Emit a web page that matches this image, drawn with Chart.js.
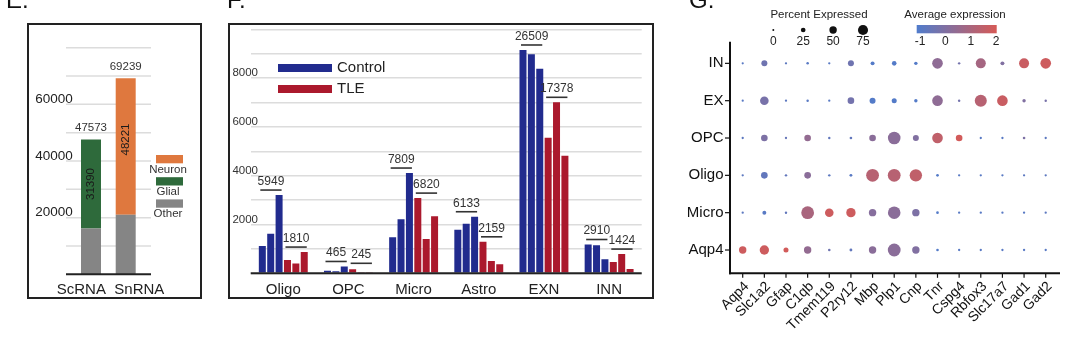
<!DOCTYPE html>
<html><head><meta charset="utf-8">
<script src="https://cdn.jsdelivr.net/npm/chart.js@4.4.1/dist/chart.umd.min.js"></script>
<style>
html,body{margin:0;padding:0;background:#fff;}
#wrap{position:relative;width:1080px;height:341px;overflow:hidden;background:#fff;}
canvas{position:absolute;left:0;top:0;}
.box{position:absolute;border:2px solid #222;box-sizing:border-box;}
</style></head><body>
<div id="wrap">
<div class="box" style="left:27px;top:23px;width:175px;height:276px"></div>
<div class="box" style="left:228px;top:23px;width:426px;height:276px"></div>
<canvas id="cE" width="1080" height="341"></canvas>
<canvas id="cF" width="1080" height="341"></canvas>
<canvas id="cG" width="1080" height="341"></canvas>
</div>
<script>
// ---------- Panel E data ----------
const eCategories = ['ScRNA', 'SnRNA'];
const eOther  = [16183, 21018];
const eGlial  = [31390, 0];
const eNeuron = [0, 48221];
const eTotals = [47573, 69239];
const eTickLabels = [20000, 40000, 60000];

// ---------- Panel F data ----------
const fCategories = ['Oligo', 'OPC', 'Micro', 'Astro', 'EXN', 'INN'];
const fControl1 = [1119, 100, 1480, 1785, 9152, 1180];
const fControl2 = [1623, 85, 2220, 2030, 8975, 1150];
const fControl3 = [3207, 280, 4109, 2318, 8382, 580];
const fTLE1 = [540, 165, 3082, 1290, 5557, 460];
const fTLE2 = [400, 40, 1404, 500, 7008, 788];
const fTLE3 = [870, 40, 2334, 369, 4813, 176];
const fControlTotals = [5949, 465, 7809, 6133, 26509, 2910];
const fTLETotals = [1810, 245, 6820, 2159, 17378, 1424];
const fTickLabels = [2000, 4000, 6000, 8000];

// ---------- Panel G data ----------
const gGenes = ['Aqp4','Slc1a2','Gfap','C1qb','Tmem119','P2ry12','Mbp','Plp1','Cnp','Tnr','Cspg4','Rbfox3','Slc17a7','Gad1','Gad2'];
const gCells = ['Aqp4', 'Micro', 'Oligo', 'OPC', 'EX', 'IN'];
const pctIN    = [2, 37, 3, 5, 3, 37, 18, 24, 13, 80, 4, 74, 18, 74, 80];
const expIN    = [-0.8, -0.3, -0.7, -0.8, -0.8, -0.3, -0.9, -0.9, -0.9, 0.4, -0.2, 0.9, 0.1, 1.7, 1.8];
const pctEX    = [2, 61, 3, 4, 3, 43, 37, 28, 13, 80, 4, 93, 80, 13, 4];
const expEX    = [-0.8, -0.1, -0.7, -0.8, -0.8, -0.2, -0.9, -0.9, -0.9, 0.4, -0.2, 1.3, 1.7, 0.1, -0.1];
const pctOPC   = [3, 43, 3, 43, 4, 6, 43, 98, 37, 80, 43, 3, 3, 6, 3];
const expOPC   = [-0.7, 0.0, -0.5, 0.5, -0.6, -0.6, 0.3, 0.3, 0.1, 1.5, 1.9, -0.8, -0.8, 0.0, -0.7];
const pctOligo = [3, 43, 4, 43, 4, 8, 100, 100, 96, 6, 3, 3, 3, 3, 3];
const expOligo = [-0.7, -0.6, -0.6, 0.3, -0.7, -0.8, 1.3, 1.3, 1.5, -0.9, -0.8, -0.8, -0.8, -0.7, -0.7];
const pctMicro = [3, 18, 4, 100, 61, 68, 50, 98, 50, 6, 3, 3, 3, 3, 3];
const expMicro = [-0.7, -0.8, -0.6, 1.0, 1.8, 1.8, 0.2, 0.3, 0.0, -0.9, -0.8, -0.8, -0.8, -0.8, -0.7];
const pctAqp4  = [50, 68, 28, 50, 5, 8, 50, 100, 50, 6, 3, 3, 3, 3, 3];
const expAqp4  = [1.8, 1.8, 1.9, 0.5, -0.3, -0.6, 0.3, 0.3, 0.1, -0.9, -0.8, -0.8, -0.8, -0.8, -0.8];
const gPctLegend = [0, 25, 50, 75];
const gExpLegend = [-1, 0, 1, 2];

// ---------- helpers ----------
const FF = '"Liberation Sans", Arial, sans-serif';
function txt(ctx, s, x, y, size, color, align, base) {
  ctx.font = size + 'px ' + FF; ctx.fillStyle = color;
  ctx.textAlign = align || 'center'; ctx.textBaseline = base || 'middle';
  ctx.fillText(s, x, y);
}
function ln(ctx, x1, y1, x2, y2, w, c) {
  ctx.beginPath(); ctx.moveTo(x1, y1); ctx.lineTo(x2, y2);
  ctx.lineWidth = w; ctx.strokeStyle = c; ctx.stroke();
}
const LO = [80, 124, 204], HI = [214, 90, 86];
function expColor(e) {
  const t = Math.max(0, Math.min(1, (e + 1) / 3));
  const c = LO.map((v, i) => Math.round(v + (HI[i] - v) * t));
  return 'rgb(' + c.join(',') + ')';
}
function radius(p) { return 1 + 0.054 * p; }
Chart.defaults.font.family = FF;

// ---------- Panel E ----------
const eColors = { other: '#858585', glial: '#2e6a3b', neuron: '#df783e' };
const eLabelShift = [-9.7, 13.6];
const eInnerShift = [0, -7];
const plE = {
  id: 'plE',
  beforeDatasetsDraw(chart) {
    const ctx = chart.ctx, y = chart.scales.y;
    ctx.save();
    y.ticks.forEach(t => {
      if (t.value === 0) return;
      const py = y.getPixelForValue(t.value);
      ln(ctx, 66, py, 151, py, 1.5, '#dcdcdc');
    });
    ctx.restore();
  },
  afterDatasetsDraw(chart) {
    const ctx = chart.ctx, y = chart.scales.y, x = chart.scales.x;
    ctx.save();
    ln(ctx, 66, y.getPixelForValue(0), 151, y.getPixelForValue(0), 2, '#222');
    eTickLabels.forEach(v => txt(ctx, String(v), 72.7, y.getPixelForValue(v) - 5, 13.5, '#222', 'right'));
    eCategories.forEach((c, i) => {
      const px = x.getPixelForValue(i);
      txt(ctx, String(eTotals[i]), px, y.getPixelForValue(eTotals[i]) - 11.5, 11.5, '#333');
      txt(ctx, c, px + eLabelShift[i], 290, 15, '#222');
      const seg = eGlial[i] > 0 ? eGlial[i] : eNeuron[i];
      const cy = (y.getPixelForValue(eOther[i]) + y.getPixelForValue(eOther[i] + seg)) / 2 + eInnerShift[i];
      ctx.save(); ctx.translate(px, cy); ctx.rotate(-Math.PI / 2);
      txt(ctx, String(seg), 0, 0, 11.5, '#1a1a1a');
      ctx.restore();
    });
    // legend
    const leg = [['Neuron', eColors.neuron], ['Glial', eColors.glial], ['Other', eColors.other]];
    leg.forEach((l, k) => {
      const top = 155 + k * 22.2;
      ctx.fillStyle = l[1]; ctx.fillRect(156, top, 27, 8.3);
      txt(ctx, l[0], 168, top + 14.5, 11.5, '#333');
    });
    // panel letters
    txt(ctx, 'E.', 6, 7.5, 24, '#111', 'left', 'alphabetic');
    txt(ctx, 'F.', 227, 7.5, 24, '#111', 'left', 'alphabetic');
    txt(ctx, 'G.', 689, 7.5, 24, '#111', 'left', 'alphabetic');
    ctx.restore();
  }
};
new Chart(document.getElementById('cE'), {
  type: 'bar',
  data: {
    labels: eCategories,
    datasets: [
      { label: 'Other', data: eOther, backgroundColor: eColors.other },
      { label: 'Glial', data: eGlial, backgroundColor: eColors.glial },
      { label: 'Neuron', data: eNeuron, backgroundColor: eColors.neuron }
    ]
  },
  options: {
    responsive: false, animation: false, events: [],
    layout: { padding: { left: 73.65, right: 936.95, top: 47.7, bottom: 66.7 } },
    plugins: { legend: { display: false }, tooltip: { enabled: false } },
    datasets: { bar: { barPercentage: 0.576, categoryPercentage: 1, borderWidth: 0 } },
    scales: {
      x: { stacked: true, grid: { display: false }, border: { display: false }, ticks: { display: false }, afterFit(s) { s.height = 0; } },
      y: { stacked: true, min: 0, max: 80000, grid: { display: false }, border: { display: false }, ticks: { display: false, stepSize: 10000 }, afterFit(s) { s.width = 0; } }
    }
  },
  plugins: [plE]
});

// ---------- Panel F ----------
const CTRL = '#212b8e', TLE = '#ab192d';
const plF = {
  id: 'plF',
  afterDatasetsDraw(chart) {
    const ctx = chart.ctx, y = chart.scales.y, x = chart.scales.x, ca = chart.chartArea;
    ctx.save();
    const base = y.getPixelForValue(0);
    ln(ctx, ca.left, base, ca.right, base, 2, '#222');
    fTickLabels.forEach(v => txt(ctx, String(v), 258, y.getPixelForValue(v) - 5, 11.5, '#333', 'right'));
    fCategories.forEach((c, i) => {
      txt(ctx, c, x.getPixelForValue(i), 289.5, 15, '#222');
      [[0, fControlTotals], [3, fTLETotals]].forEach(g => {
        const bars = [0, 1, 2].map(k => chart.getDatasetMeta(g[0] + k).data[i]);
        const left = bars[0].x - bars[0].width / 2 + 1.5;
        const right = bars[2].x + bars[2].width / 2 - 1;
        const top = Math.min(...bars.map(b => b.y));
        const ly = Math.min(top - 5, base - 10);
        ln(ctx, left, ly, right, ly, 1.6, '#333');
        txt(ctx, String(g[1][i]), (left + right) / 2, ly - 8.5, 12, '#333');
      });
    });
    ctx.fillStyle = CTRL; ctx.fillRect(278, 64, 54, 8);
    txt(ctx, 'Control', 337, 68.3, 15, '#222', 'left');
    ctx.fillStyle = TLE; ctx.fillRect(278, 85, 54, 8);
    txt(ctx, 'TLE', 337, 89.3, 15, '#222', 'left');
    ctx.restore();
  }
};
new Chart(document.getElementById('cF'), {
  type: 'bar',
  data: {
    labels: fCategories,
    datasets: [
      { label: 'Control', data: fControl1, backgroundColor: CTRL },
      { label: 'Control', data: fControl2, backgroundColor: CTRL },
      { label: 'Control', data: fControl3, backgroundColor: CTRL },
      { label: 'TLE', data: fTLE1, backgroundColor: TLE },
      { label: 'TLE', data: fTLE2, backgroundColor: TLE },
      { label: 'TLE', data: fTLE3, backgroundColor: TLE }
    ]
  },
  options: {
    responsive: false, animation: false, events: [],
    layout: { padding: { left: 250.7, right: 438.3, top: 29.3, bottom: 67.7 } },
    plugins: { legend: { display: false }, tooltip: { enabled: false } },
    datasets: { bar: { barPercentage: 0.835, categoryPercentage: 0.772, borderWidth: 0 } },
    scales: {
      x: { grid: { display: false }, border: { display: false }, ticks: { display: false }, afterFit(s) { s.height = 0; } },
      y: { min: 0, max: 10000, grid: { color: '#dcdcdc', lineWidth: 1.5, drawTicks: false }, border: { display: false }, ticks: { display: false, stepSize: 1000 }, afterFit(s) { s.width = 0; } }
    }
  },
  plugins: [plF]
});

// ---------- Panel G ----------
const gPct = [pctAqp4, pctMicro, pctOligo, pctOPC, pctEX, pctIN];
const gExp = [expAqp4, expMicro, expOligo, expOPC, expEX, expIN];
const gPoints = [];
gPct.forEach((row, yi) => row.forEach((p, xi) => gPoints.push({ x: xi, y: yi, r: radius(p), e: gExp[yi][xi] })));
const plG = {
  id: 'plG',
  afterDatasetsDraw(chart) {
    const ctx = chart.ctx, y = chart.scales.y, x = chart.scales.x, ca = chart.chartArea;
    ctx.save();
    ln(ctx, ca.left, ca.top, ca.left, ca.bottom + 1, 2, '#111');
    ln(ctx, ca.left - 1, ca.bottom, ca.right, ca.bottom, 2, '#111');
    gCells.forEach((c, i) => {
      const py = y.getPixelForValue(i);
      ln(ctx, ca.left - 5, py, ca.left, py, 1.2, '#111');
      txt(ctx, c, ca.left - 6.5, py, 15, '#111', 'right');
    });
    gGenes.forEach((g, i) => {
      const px = x.getPixelForValue(i);
      ln(ctx, px, ca.bottom, px, ca.bottom + 4.5, 1.2, '#111');
      ctx.save(); ctx.translate(px + 4, ca.bottom + 11); ctx.rotate(-Math.PI / 4);
      txt(ctx, g, 0, 0, 14, '#111', 'right');
      ctx.restore();
    });
    // size legend
    txt(ctx, 'Percent Expressed', 819, 15, 11.5, '#222');
    gPctLegend.forEach((p, k) => {
      const lx = 773.3 + k * 29.9;
      ctx.beginPath(); ctx.arc(lx, 30, radius(p), 0, Math.PI * 2); ctx.fillStyle = '#111'; ctx.fill();
      txt(ctx, String(p), lx, 42, 12, '#222');
    });
    // colour legend
    txt(ctx, 'Average expression', 955, 15, 11.5, '#222');
    const grd = ctx.createLinearGradient(916.7, 0, 996.7, 0);
    grd.addColorStop(0, expColor(-1)); grd.addColorStop(1, expColor(2));
    ctx.fillStyle = grd; ctx.fillRect(916.7, 25, 80, 8.3);
    gExpLegend.forEach(v => txt(ctx, String(v), 920 + (v + 1) * 25.4, 42, 12, '#222'));
    ctx.restore();
  }
};
new Chart(document.getElementById('cG'), {
  type: 'bubble',
  data: {
    datasets: [{
      data: gPoints,
      backgroundColor: ctx => expColor(ctx.raw ? ctx.raw.e : 0),
      borderWidth: 0, hoverRadius: 0
    }]
  },
  options: {
    responsive: false, animation: false, events: [],
    layout: { padding: { left: 730, right: 20, top: 41.7, bottom: 67.7 } },
    plugins: { legend: { display: false }, tooltip: { enabled: false } },
    scales: {
      x: { type: 'linear', min: -0.587, max: 14.66, grid: { display: false }, border: { display: false }, ticks: { display: false }, afterFit(s) { s.height = 0; } },
      y: { type: 'linear', min: -0.624, max: 5.58, grid: { display: false }, border: { display: false }, ticks: { display: false }, afterFit(s) { s.width = 0; } }
    }
  },
  plugins: [plG]
});
</script>
</body></html>
